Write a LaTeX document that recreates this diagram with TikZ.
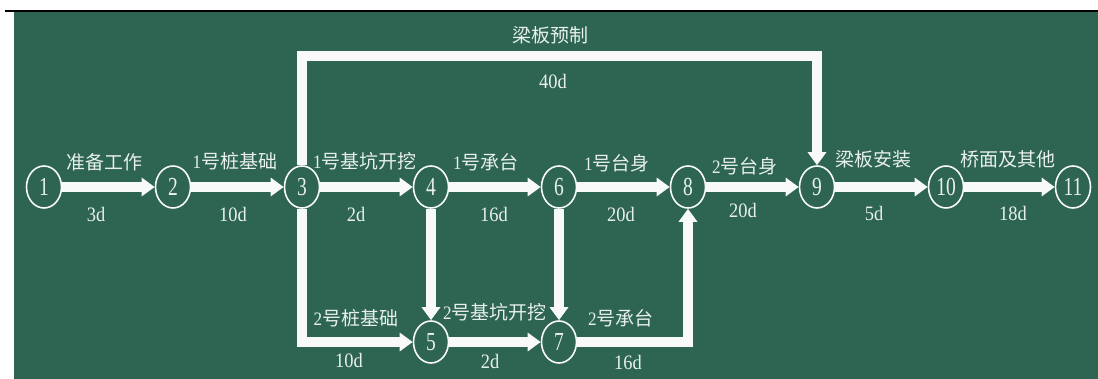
\documentclass[tikz,border=0pt]{standalone}
\usepackage{fontspec}
\setmainfont{Liberation Serif}
\newfontfamily\cjk{Noto Sans CJK SC}
\usetikzlibrary{shapes.geometric,arrows.meta}
\definecolor{bg}{RGB}{46,100,82}
\definecolor{txt}{RGB}{232,240,235}
\definecolor{linecol}{RGB}{248,250,249}
\newcommand\cn[1]{\scalebox{0.75}[1]{#1}}
\newcommand\dn[1]{\scalebox{0.9}[1]{#1}}
\begin{document}
\begin{tikzpicture}[x=1pt,y=-1pt,
  ev/.style={ellipse, draw=linecol, line width=1.6pt, fill=bg, minimum width=35pt, minimum height=42pt, inner sep=0pt, text=txt, font=\fontsize{26}{26}\selectfont},
  arr/.style={draw=linecol, line width=10pt, -{Triangle[length=13pt,width=18pt]}},
  lab/.style={text=txt, inner sep=0pt, font=\fontsize{19}{19}\selectfont},
  dur/.style={text=txt, inner sep=0pt, font=\fontsize{20.5}{20.5}\selectfont}]
\useasboundingbox (0,0) rectangle (1098,379);
\fill[white] (0,0) rectangle (1098,379);
\fill[bg] (14,12) rectangle (1098,379);
\draw[black, line width=1.5pt] (5,11) -- (1098,11);

% events
\node[ev] (n1) at (44,187) {\cn{1}};
\node[ev] (n2) at (173,187) {\cn{2}};
\node[ev] (n3) at (302,187) {\cn{3}};
\node[ev] (n4) at (431,187) {\cn{4}};
\node[ev] (n5) at (431,342) {\cn{5}};
\node[ev] (n6) at (559,187) {\cn{6}};
\node[ev] (n7) at (559,342) {\cn{7}};
\node[ev] (n8) at (688,187) {\cn{8}};
\node[ev] (n9) at (817,187) {\cn{9}};
\node[ev] (n10) at (946,187) {\cn{10}};
\node[ev] (n11) at (1073,187) {\cn{11}};
\coordinate (ctop) at (817,56);

% activities
\draw[arr] (n1) -- (n2);
\draw[arr] (n2) -- (n3);
\draw[arr] (n3) -- (n4);
\draw[arr] (n4) -- (n6);
\draw[arr] (n6) -- (n8);
\draw[arr] (n8) -- (n9);
\draw[arr] (n9) -- (n10);
\draw[arr] (n10) -- (n11);
\draw[arr] (n3) |- (ctop) -- (n9);
\draw[arr] (n3) |- (n5);
\draw[arr] (n4) -- (n5);
\draw[arr] (n5) -- (n7);
\draw[arr] (n6) -- (n7);
\draw[arr] (n7) -| (n8);

% labels
\node[lab] (t1) at (104,162) {{\cjk 准备工作}};
\node[lab] (t2) at (235,161) {\dn{1}{\cjk 号桩基础}};
\node[lab] (t3) at (365,161) {\dn{1}{\cjk 号基坑开挖}};
\node[lab] (t4) at (486,162) {\dn{1}{\cjk 号承台}};
\node[lab] (t5) at (617,163) {\dn{1}{\cjk 号台身}};
\node[lab] (t6) at (745,166) {\dn{2}{\cjk 号台身}};
\node[lab] (t7) at (873,159) {{\cjk 梁板安装}};
\node[lab] (t8) at (1008,159) {{\cjk 桥面及其他}};
\node[lab] (t9) at (550,35) {{\cjk 梁板预制}};
\node[lab] (t10) at (356,318) {\dn{2}{\cjk 号桩基础}};
\node[lab] (t11) at (495,312) {\dn{2}{\cjk 号基坑开挖}};
\node[lab] (t12) at (621,318) {\dn{2}{\cjk 号承台}};

\node[dur] (d1) at (96,214) {\dn{3d}};
\node[dur] (d2) at (233,214) {\dn{10d}};
\node[dur] (d3) at (356,214) {\dn{2d}};
\node[dur] (d4) at (494,214) {\dn{16d}};
\node[dur] (d5) at (621,214) {\dn{20d}};
\node[dur] (d6) at (743,210) {\dn{20d}};
\node[dur] (d7) at (874,213) {\dn{5d}};
\node[dur] (d8) at (1013,213) {\dn{18d}};
\node[dur] (d9) at (553,81) {\dn{40d}};
\node[dur] (d10) at (349,360) {\dn{10d}};
\node[dur] (d11) at (490,361) {\dn{2d}};
\node[dur] (d12) at (628,362) {\dn{16d}};
\end{tikzpicture}
\end{document}
